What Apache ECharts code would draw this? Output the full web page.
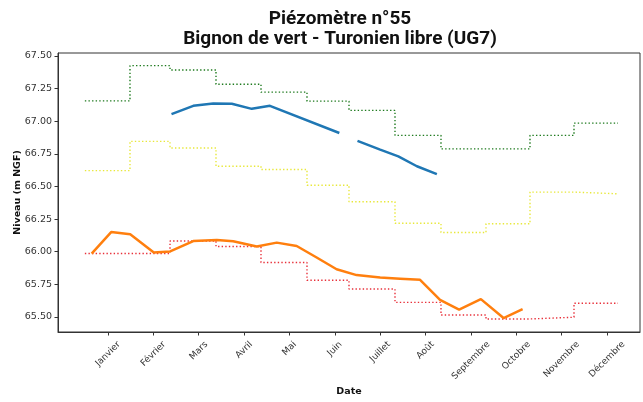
<!DOCTYPE html>
<html>
<head>
<meta charset="utf-8">
<script src="https://cdn.jsdelivr.net/npm/echarts@6/dist/echarts.min.js"></script>
<style>
html, body { margin: 0; padding: 0; background: #fff; }
#chart1 { width: 643px; height: 402px; }
</style>
</head>
<body>
<div id="chart1"></div>
<script>
// x is counted in months: 1 = Janvier tick ... 12 = Décembre tick
var months = ['Janvier', 'Février', 'Mars', 'Avril', 'Mai', 'Juin', 'Juillet', 'Août', 'Septembre', 'Octobre', 'Novembre', 'Décembre'];
var monthTicks = [1, 2, 3, 4, 5, 6, 7, 8, 9, 10, 11, 12];
var levelTicks = [65.5, 65.75, 66.0, 66.25, 66.5, 66.75, 67.0, 67.25, 67.5];

// monthly reference levels (step lines), limits of each month
var stepX = [0.49, 1.485, 2.367, 3.381, 4.373, 5.387, 6.313, 7.327, 8.341, 9.333, 10.303, 11.273, 12.243];
var greenLevels = [67.156, 67.426, 67.393, 67.284, 67.223, 67.154, 67.083, 66.892, 66.788, 66.788, 66.892, 66.986];
var yellowLevels = [66.622, 66.846, 66.795, 66.655, 66.630, 66.510, 66.383, 66.218, 66.147, 66.215, 66.457, 66.444];
var redLevels = [65.986, 65.986, 66.082, 66.040, 65.918, 65.782, 65.714, 65.612, 65.515, 65.485, 65.498, 65.605];

// measured levels
var blueX = [2.40, 2.88, 3.32, 3.73, 4.17, 4.57, 6.10, 6.28, 6.50, 7.00, 7.40, 7.81, 8.25];
var blueY = [67.055, 67.118, 67.136, 67.134, 67.095, 67.118, 66.910, null, 66.850, 66.782, 66.731, 66.655, 66.595];
var orangeX = [0.64, 1.07, 1.49, 2.01, 2.37, 2.88, 3.40, 3.76, 4.28, 4.72, 5.16, 5.60, 6.04, 6.48, 7.00, 7.44, 7.88, 8.32, 8.74, 9.22, 9.72, 10.14];
var orangeY = [65.986, 66.151, 66.134, 65.994, 66.002, 66.082, 66.090, 66.080, 66.040, 66.070, 66.044, 65.956, 65.866, 65.821, 65.803, 65.794, 65.785, 65.632, 65.556, 65.637, 65.492, 65.561];

function pairs(xs, ys) {
    return xs.map(function (x, i) { return [x, ys[i] === null ? '-' : ys[i]]; });
}
function steps(levels) {
    return stepX.map(function (x, i) { return [x, levels[Math.min(i, levels.length - 1)]]; });
}

// rotated month labels centred under their tick (like matplotlib):
// an empty first line pushes the text down, a spacer after it pulls it back
var labelFont = 'DejaVu Sans';
var ctx = document.createElement('canvas').getContext('2d');
ctx.font = '9px "' + labelFont + '"';
var monthRich = {t: {fontFamily: labelFont, fontSize: 9, lineHeight: 11, color: '#333'}};
months.forEach(function (m, i) {
    var w = ctx.measureText(m).width;
    monthRich['u' + i] = {fontSize: 9, lineHeight: w / 2 + 26.8};
    monthRich['s' + i] = {fontSize: 9, width: Math.max(0, 13.4 - w / 4)};
});

var xMin = -0.102, xMax = 12.728;
var axisColor = '#333';

// labels go on two extra axes (odd / even months) so that their tall boxes
// never collide and echarts keeps all of them
function labelAxis(ticks) {
    return {
        type: 'value',
        position: 'bottom',
        min: xMin,
        max: xMax,
        axisLine: {show: false},
        axisTick: {show: false},
        splitLine: {show: false},
        axisLabel: {
            customValues: ticks,
            formatter: function (v) {
                var i = Math.round(v) - 1;
                return '{u' + i + '| }\n{t|' + months[i] + '}{s' + i + '| }';
            },
            rich: monthRich,
            rotate: 45,
            align: 'right',
            verticalAlign: 'middle',
            margin: -8,
            showMinLabel: true,
            showMaxLabel: true,
            fontFamily: labelFont,
            fontSize: 9,
            color: '#333'
        }
    };
}

var chartDom = document.getElementById('chart1');
var myChart = echarts.init(chartDom);
var option;

option = {
    backgroundColor: '#fff',
    animation: false,
    title: {
        text: 'Piézomètre n°55\nBignon de vert - Turonien libre (UG7)',
        left: 340,
        top: 9,
        padding: 0,
        textAlign: 'center',
        textStyle: {
            fontFamily: 'Roboto',
            fontWeight: 'bold',
            fontSize: 19,
            lineHeight: 20,
            color: '#111'
        }
    },
    grid: {
        left: 58,
        right: 3,
        top: 53,
        bottom: 69,
        show: true,
        borderColor: axisColor,
        borderWidth: 1
    },
    xAxis: [
        {
            type: 'value',
            position: 'bottom',
            min: xMin,
            max: xMax,
            name: 'Date',
            nameLocation: 'middle',
            nameGap: 55,
            nameMoveOverlap: false,
            nameTextStyle: {fontFamily: 'DejaVu Sans', fontWeight: 'bold', fontSize: 9.5, color: '#111'},
            axisLine: {show: true, onZero: false, lineStyle: {color: axisColor}},
            axisTick: {show: true, length: 3.5, customValues: monthTicks, lineStyle: {color: axisColor}},
            axisLabel: {show: false},
            splitLine: {show: false}
        },
        labelAxis(monthTicks.filter(function (m) { return m % 2 === 1; })),
        labelAxis(monthTicks.filter(function (m) { return m % 2 === 0; }))
    ],
    yAxis: {
        type: 'value',
        min: 65.385,
        max: 67.523,
        name: 'Niveau (m NGF)',
        nameLocation: 'middle',
        nameGap: 35,
        nameMoveOverlap: false,
        nameTextStyle: {fontFamily: 'DejaVu Sans', fontWeight: 'bold', fontSize: 9.5, color: '#111'},
        axisLine: {show: true, onZero: false, lineStyle: {color: axisColor}},
        axisTick: {show: true, length: 3.5, customValues: levelTicks, lineStyle: {color: axisColor}},
        axisLabel: {
            customValues: levelTicks,
            formatter: function (v) { return v.toFixed(2); },
            margin: 6,
            fontFamily: 'DejaVu Sans',
            fontSize: 9.5,
            color: '#333'
        },
        splitLine: {show: false}
    },
    series: [
        {
            name: 'max',
            type: 'line',
            step: 'end',
            showSymbol: false,
            data: steps(greenLevels),
            lineStyle: {color: '#1e7a1e', width: 1.4, type: [1.4, 2.2]},
            z: 2
        },
        {
            name: 'moyenne',
            type: 'line',
            step: 'end',
            showSymbol: false,
            data: steps(yellowLevels),
            lineStyle: {color: '#e8e83a', width: 1.4, type: [1.4, 2.2]},
            z: 2
        },
        {
            name: 'min',
            type: 'line',
            step: 'end',
            showSymbol: false,
            data: steps(redLevels),
            lineStyle: {color: '#e8303a', width: 1.4, type: [1.4, 2.2]},
            z: 2
        },
        {
            name: 'année précédente',
            type: 'line',
            showSymbol: false,
            connectNulls: false,
            data: pairs(blueX, blueY),
            lineStyle: {color: '#1f77b4', width: 2.5},
            z: 3
        },
        {
            name: 'année en cours',
            type: 'line',
            showSymbol: false,
            data: pairs(orangeX, orangeY),
            lineStyle: {color: '#ff7f0e', width: 2.5},
            z: 4
        }
    ]
};

option && myChart.setOption(option);
</script>
</body>
</html>
